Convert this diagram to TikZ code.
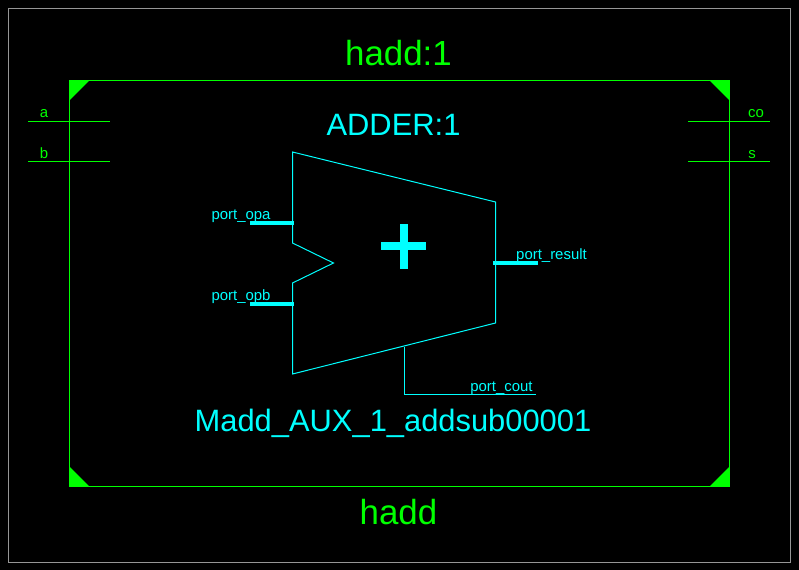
\documentclass[tikz,border=0pt]{standalone}
\usepackage{fontspec}
\setmainfont{Liberation Sans}
\usetikzlibrary{calc}
\definecolor{sigcyan}{RGB}{0,255,255}
\definecolor{siggreen}{RGB}{0,255,0}
\definecolor{framegray}{RGB}{150,150,150}
\tikzset{
    titlegreen/.style={text=siggreen, inner sep=0pt, font=\fontsize{35}{35}\selectfont},
    titlecyan/.style={text=sigcyan, inner sep=0pt, font=\fontsize{31}{31}\selectfont},
    portgreen/.style={text=siggreen, inner sep=0pt, font=\fontsize{15}{15}\selectfont},
    portcyan/.style={text=sigcyan, inner sep=0pt, font=\fontsize{15}{15}\selectfont},
    wire/.style={siggreen, line width=1bp},
    sym/.style={sigcyan, line width=1bp},
    pin/.style={sigcyan, line width=4bp},
}
\begin{document}
\begin{tikzpicture}[x=1bp, y=-1bp]
    \useasboundingbox (0,0) rectangle (799,570);
    \fill[black] (0,0) rectangle (799,570);

    \draw[framegray, line width=1bp] (8.5,8.5) rectangle (790.5,562.5);

    % outer block
    \coordinate (tl) at (69.5,80.5);
    \coordinate (tr) at (729.5,80.5);
    \coordinate (br) at (729.5,486.5);
    \coordinate (bl) at (69.5,486.5);
    \draw[wire] (tl) -- (tr) -- (br) -- (bl) -- cycle;
    \fill[siggreen] (tl) -- ++(20,0) -- ++(-20,20) -- cycle;
    \fill[siggreen] (tr) -- ++(-20,0) -- ++(20,20) -- cycle;
    \fill[siggreen] (br) -- ++(-20,0) -- ++(20,-20) -- cycle;
    \fill[siggreen] (bl) -- ++(20,0) -- ++(-20,-20) -- cycle;

    \node[titlegreen] (blocktop) at (398.5,53.5) {hadd:1};
    \node[titlegreen] (blockbot) at (398.5,512.5) {hadd};

    % block ports
    \coordinate (al) at (28,121.5);
    \coordinate (ar) at (110,121.5);
    \coordinate (bbl) at (28,161.5);
    \coordinate (bbr) at (110,161.5);
    \coordinate (col) at (688,121.5);
    \coordinate (cor) at (770,121.5);
    \coordinate (sl) at (688,161.5);
    \coordinate (sr) at (770,161.5);
    \draw[wire] (al) -- (ar);
    \draw[wire] (bbl) -- (bbr);
    \draw[wire] (col) -- (cor);
    \draw[wire] (sl) -- (sr);
    \node[portgreen] (lbla) at (44,113.5) {a};
    \node[portgreen] (lblb) at (44,153.5) {b};
    \node[portgreen] (lblco) at (756,113.5) {co};
    \node[portgreen] (lbls) at (752,154.5) {s};

    % adder symbol
    \node[titlecyan] (addname) at (393.5,124.5) {ADDER:1};
    \node[titlecyan] (instname) at (393,423.5) {Madd\_AUX\_1\_addsub00001};
    \coordinate (t1) at (292.5,152);
    \coordinate (t2) at (495.5,202);
    \coordinate (t3) at (495.5,323);
    \coordinate (t4) at (292.5,374);
    \coordinate (n1) at (292.5,283);
    \coordinate (n2) at (333.5,263);
    \coordinate (n3) at (292.5,243);
    \draw[sym] (t1) -- (t2) -- (t3) -- (t4) -- (n1) -- (n2) -- (n3) -- cycle;

    % plus sign
    \coordinate (plusc) at (403.5,246);
    \fill[sigcyan] ($(plusc)+(-22.5,-4)$) rectangle ($(plusc)+(22.5,4)$);
    \fill[sigcyan] ($(plusc)+(-4,-22.5)$) rectangle ($(plusc)+(4,22.5)$);

    % pins
    \coordinate (opaout) at (250,222.5);
    \coordinate (opain) at (294,222.5);
    \coordinate (opbout) at (250,303.5);
    \coordinate (opbin) at (294,303.5);
    \coordinate (resin) at (493,262.5);
    \coordinate (resout) at (538,262.5);
    \draw[pin] (opaout) -- (opain);
    \draw[pin] (opbout) -- (opbin);
    \draw[pin] (resin) -- (resout);
    \coordinate (coutin) at (404.5,347);
    \coordinate (coutout) at (536,394.5);
    \draw[sym] (coutin) |- (coutout);

    \node[portcyan] (lblopa) at (241,216) {port\_opa};
    \node[portcyan] (lblopb) at (241,297) {port\_opb};
    \node[portcyan] (lblres) at (551.5,256) {port\_result};
    \node[portcyan] (lblcout) at (501.5,388) {port\_cout};
\end{tikzpicture}
\end{document}
